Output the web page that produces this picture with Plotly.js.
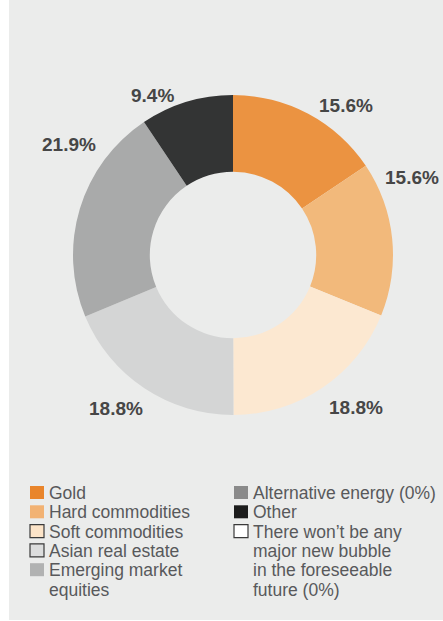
<!DOCTYPE html>
<html>
<head>
<meta charset="utf-8">
<script src="https://cdn.plot.ly/plotly-3.0.1.min.js"></script>
<style>
  html, body { margin: 0; padding: 0; background: #ffffff; }
  #chart { width: 443px; height: 621px; }
</style>
</head>
<body>
<div id="chart"></div>
<script>
// ---- data ----
const categories = [
  "Gold",
  "Hard commodities",
  "Soft commodities",
  "Asian real estate",
  "Emerging market equities",
  "Alternative energy",
  "Other",
  "There won’t be any major new bubble in the foreseeable future"
];
const shares = [15.6, 15.6, 18.8, 18.8, 21.9, 0, 9.4, 0];
const legendLines = [
  ["Gold"],
  ["Hard commodities"],
  ["Soft commodities"],
  ["Asian real estate"],
  ["Emerging market", "equities"],
  ["Alternative energy (0%)"],
  ["Other"],
  ["There won’t be any", "major new bubble", "in the foreseeable", "future (0%)"]
];

// ---- styles ----
const sliceColors = ["#eb9341", "#f2b97b", "#fce8d1", "#d4d5d5", "#a9aaaa", "#8a8a8a", "#333434", "#ffffff"];
const swatchColors = ["#e9852b", "#f2b273", "#fce4c8", "#dcdddd", "#b1b2b2", "#8a8a8a", "#1c1c1c", "#ffffff"];
const swatchBorder = [false, false, true, true, false, false, false, true];
// label placement around the ring: angular nudge from slice middle (deg) and distance from centre (px)
const labelNudge = [9, -17.7, -5, 3.6, 17.2, 0, -10, 0];
const labelDist  = [187, 195, 196, 193, 198, 0, 179, 0];

const W = 443, H = 621;
const CX = 233, CY = 255, R = 160;
const px = x => x / W;
const py = y => 1 - y / H;

// pie uses only non-zero shares
const idx = shares.map((v, i) => i).filter(i => shares[i] > 0);
const total = shares.reduce((a, b) => a + b, 0);

const trace = {
  type: "pie",
  labels: idx.map(i => categories[i]),
  values: idx.map(i => shares[i]),
  marker: { colors: idx.map(i => sliceColors[i]), line: { width: 0 } },
  sort: false,
  direction: "clockwise",
  rotation: 0,
  hole: 0.52,
  textinfo: "none",
  showlegend: false,
  hoverinfo: "label+percent",
  domain: { x: [px(CX - R), px(CX + R)], y: [py(CY + R), py(CY - R)] }
};

const shapes = [{
  type: "rect", xref: "paper", yref: "paper", layer: "below",
  x0: px(9), x1: 1, y0: py(620), y1: 1,
  fillcolor: "#ebeceb", line: { width: 0 }
}];
const annotations = [];

// percentage labels placed at each slice's middle angle
let cum = 0;
shares.forEach((v, i) => {
  const mid = (cum + v / 2) / total * 360;
  cum += v;
  if (v <= 0) return;
  const th = (mid + labelNudge[i]) * Math.PI / 180;
  annotations.push({
    xref: "paper", yref: "paper",
    x: px(CX + labelDist[i] * Math.sin(th)),
    y: py(CY - labelDist[i] * Math.cos(th)),
    xanchor: "center", yanchor: "middle",
    text: v.toFixed(1) + "%", showarrow: false,
    font: { family: "Liberation Sans, Arial, sans-serif", size: 19, color: "#464646", weight: "bold" }
  });
});

// legend (two columns) built from shapes + annotations
const colX = [30, 234];
const rowY0 = 486, rowStep = 19.3;
const rowCounter = [0, 0];
categories.forEach((c, i) => {
  const col = i < 5 ? 0 : 1;
  const top = rowY0 + rowCounter[col] * rowStep;
  shapes.push({
    type: "rect", xref: "paper", yref: "paper",
    x0: px(colX[col]), x1: px(colX[col] + 14),
    y0: py(top + 13), y1: py(top),
    fillcolor: swatchColors[i],
    line: swatchBorder[i] ? { width: 1.2, color: "#3a3a3a" } : { width: 0 }
  });
  legendLines[i].forEach((line, k) => {
    annotations.push({
      xref: "paper", yref: "paper",
      x: px(colX[col] + 17), y: py(top + 7 + k * rowStep),
      xanchor: "left", yanchor: "middle",
      text: line, showarrow: false,
      font: { family: "Liberation Sans, Arial, sans-serif", size: 17.5, color: "#58595b" }
    });
  });
  rowCounter[col] += legendLines[i].length;
});

const layout = {
  width: W, height: H,
  margin: { l: 0, r: 0, t: 0, b: 0 },
  paper_bgcolor: "#ffffff",
  plot_bgcolor: "rgba(0,0,0,0)",
  shapes: shapes,
  annotations: annotations,
  showlegend: false
};

Plotly.newPlot("chart", [trace], layout, { displayModeBar: false, staticPlot: true });
</script>
</body>
</html>
